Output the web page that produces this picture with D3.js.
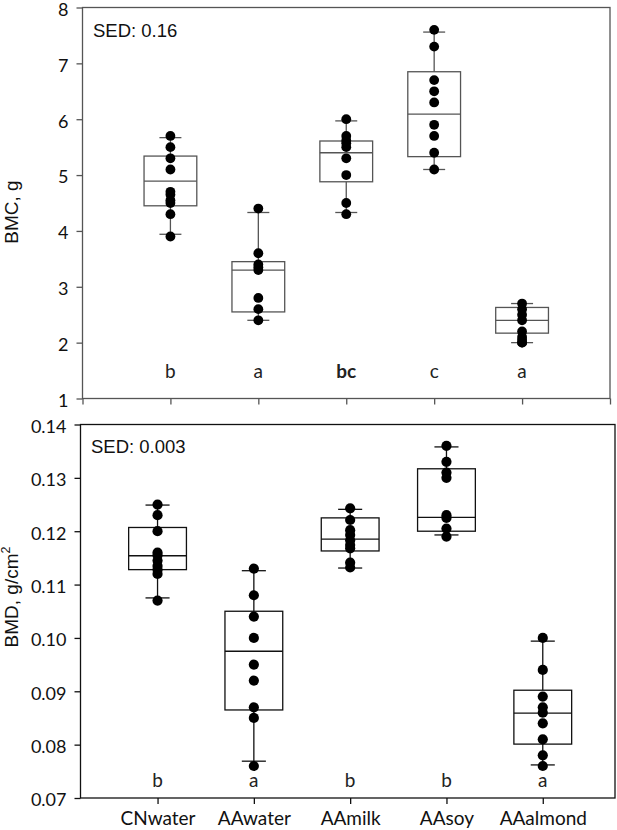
<!DOCTYPE html>
<html>
<head>
<meta charset="utf-8">
<script src="https://cdn.jsdelivr.net/npm/d3@7"></script>
<style>
  html, body { margin: 0; padding: 0; background: #fff; }
  svg { display: block; }
</style>
</head>
<body>
<svg id="chart" width="617" height="830"></svg>
<script>
// ---------- DATA ----------
const categories = ["CNwater", "AAwater", "AAmilk", "AAsoy", "AAalmond"];

// BMC, g (top panel)
const bmcPoints = [
  [5.7, 5.5, 5.3, 5.1, 4.7, 4.65, 4.55, 4.5, 4.3, 3.9],
  [4.4, 3.6, 3.4, 3.35, 3.3, 2.8, 2.6, 2.4],
  [6.0, 5.7, 5.62, 5.57, 5.5, 5.3, 5.0, 4.5, 4.3],
  [7.6, 7.3, 6.7, 6.5, 6.3, 5.9, 5.7, 5.4, 5.1],
  [2.7, 2.6, 2.5, 2.4, 2.2, 2.1, 2.05, 2.0, 2.0]
];
const bmcQ1      = [4.45, 2.55, 4.88, 5.33, 2.17];
const bmcMedian  = [4.89, 3.30, 5.40, 6.09, 2.40];
const bmcQ3      = [5.34, 3.45, 5.61, 6.85, 2.63];
const bmcLow     = [3.94, 2.40, 4.33, 5.10, 2.00];
const bmcHigh    = [5.67, 4.33, 5.97, 7.56, 2.70];
const bmcLetters = ["b", "a", "bc", "c", "a"];
const bmcTicks   = [1, 2, 3, 4, 5, 6, 7, 8];
const bmcSED     = "SED: 0.16";

// BMD, g/cm2 (bottom panel)
const bmdPoints = [
  [0.125, 0.123, 0.120, 0.116, 0.1155, 0.1145, 0.1135, 0.1128, 0.112, 0.107],
  [0.113, 0.108, 0.104, 0.100, 0.095, 0.092, 0.087, 0.085, 0.076],
  [0.1243, 0.1221, 0.1202, 0.1193, 0.1183, 0.1174, 0.1168, 0.1141, 0.1132],
  [0.136, 0.133, 0.131, 0.130, 0.123, 0.1225, 0.1205, 0.119],
  [0.100, 0.094, 0.089, 0.087, 0.086, 0.084, 0.081, 0.078, 0.076]
];
const bmdQ1      = [0.1128, 0.0865, 0.1163, 0.1200, 0.0801];
const bmdMedian  = [0.1154, 0.0975, 0.1185, 0.1226, 0.0859];
const bmdQ3      = [0.1207, 0.1050, 0.1225, 0.1317, 0.0902];
const bmdLow     = [0.1075, 0.0769, 0.1131, 0.1193, 0.0762];
const bmdHigh    = [0.1249, 0.1126, 0.1241, 0.1358, 0.0994];
const bmdLetters = ["b", "a", "b", "b", "a"];
const bmdTicks   = [0.07, 0.08, 0.09, 0.10, 0.11, 0.12, 0.13, 0.14];
const bmdSED     = "SED: 0.003";

// ---------- DRAW ----------
const svg = d3.select("#chart");
const tickFont = "Lato, 'Open Sans', sans-serif";
const textFont = "Arial, 'Liberation Sans', sans-serif";

function panel(cfg) {
  const g = svg.append("g");
  const x = d3.scaleLinear().domain(cfg.xDomain).range([cfg.left, cfg.right]);
  const y = d3.scaleLinear().domain(cfg.yDomain).range([cfg.bottom, cfg.top]);
  const col = cfg.color;

  // frame
  g.append("rect")
    .attr("x", cfg.left).attr("y", cfg.top)
    .attr("width", cfg.right - cfg.left).attr("height", cfg.bottom - cfg.top)
    .attr("fill", "none").attr("stroke", col).attr("stroke-width", 1.3);

  // y axis
  const yAxis = d3.axisLeft(y).tickValues(cfg.yTicks).tickSize(6).tickPadding(8)
    .tickFormat(cfg.yFormat);
  const ya = g.append("g").attr("transform", `translate(${cfg.left},0)`).call(yAxis);
  ya.select(".domain").remove();
  ya.selectAll(".tick line").attr("stroke", col).attr("stroke-width", 1.3);
  ya.selectAll(".tick text").attr("font-family", tickFont).attr("font-size", 18)
    .attr("dy", "0.44em").attr("fill", "#111");

  // x axis
  const xAxis = d3.axisBottom(x).tickValues(cfg.xTicks).tickSize(6)
    .tickPadding(cfg.showLabels ? 8 : 3)
    .tickFormat(d => cfg.showLabels && d >= 1 && d <= categories.length ? categories[d - 1] : "");
  const xa = g.append("g").attr("transform", `translate(0,${cfg.bottom})`).call(xAxis);
  xa.select(".domain").remove();
  xa.selectAll(".tick line").attr("stroke", col).attr("stroke-width", 1.3);
  xa.selectAll(".tick text").attr("font-family", tickFont).attr("font-size", 19)
    .attr("fill", "#111");

  const idx = d3.range(categories.length);
  const boxHalf = 0.3, capHalf = 0.125;

  // whiskers
  g.selectAll(".wl").data(idx).join("line")
    .attr("x1", i => x(i + 1)).attr("x2", i => x(i + 1))
    .attr("y1", i => y(cfg.high[i])).attr("y2", i => y(cfg.q3[i]))
    .attr("stroke", col).attr("stroke-width", 1.3);
  g.selectAll(".wh").data(idx).join("line")
    .attr("x1", i => x(i + 1)).attr("x2", i => x(i + 1))
    .attr("y1", i => y(cfg.q1[i])).attr("y2", i => y(cfg.low[i]))
    .attr("stroke", col).attr("stroke-width", 1.3);
  ["high", "low"].forEach(k => {
    g.selectAll(".cap-" + k).data(idx).join("line")
      .attr("x1", i => x(i + 1 - capHalf)).attr("x2", i => x(i + 1 + capHalf))
      .attr("y1", i => y(cfg[k][i])).attr("y2", i => y(cfg[k][i]))
      .attr("stroke", col).attr("stroke-width", 1.3);
  });

  // boxes
  g.selectAll(".box").data(idx).join("rect")
    .attr("x", i => x(i + 1 - boxHalf))
    .attr("width", i => x(i + 1 + boxHalf) - x(i + 1 - boxHalf))
    .attr("y", i => y(cfg.q3[i]))
    .attr("height", i => y(cfg.q1[i]) - y(cfg.q3[i]))
    .attr("fill", "none").attr("stroke", col).attr("stroke-width", 1.3);
  g.selectAll(".med").data(idx).join("line")
    .attr("x1", i => x(i + 1 - boxHalf)).attr("x2", i => x(i + 1 + boxHalf))
    .attr("y1", i => y(cfg.median[i])).attr("y2", i => y(cfg.median[i]))
    .attr("stroke", col).attr("stroke-width", 1.3);

  // points
  const pts = [];
  cfg.points.forEach((arr, i) => arr.forEach(v => pts.push({ i, v })));
  g.selectAll(".pt").data(pts).join("circle")
    .attr("cx", d => x(d.i + 1)).attr("cy", d => y(d.v))
    .attr("r", cfg.r).attr("fill", "#000");

  // letters
  g.selectAll(".let").data(idx).join("text")
    .attr("x", i => x(i + 1)).attr("y", cfg.letterY)
    .attr("text-anchor", "middle").attr("dominant-baseline", "middle")
    .attr("font-family", tickFont).attr("font-size", 19).attr("fill", "#222")
    .attr("font-weight", i => cfg.letters[i].length > 1 ? 700 : 400)
    .text(i => cfg.letters[i]);

  // SED
  g.append("text").attr("x", cfg.left + 10.5).attr("y", cfg.top + cfg.sedDy)
    .attr("font-family", textFont).attr("font-size", 18.5).attr("fill", "#111")
    .text(cfg.sed);

  // y title
  const t = g.append("text")
    .attr("transform", `translate(${cfg.titleX},${cfg.titleY}) rotate(-90)`)
    .attr("text-anchor", "middle")
    .attr("font-family", textFont).attr("font-size", 19).attr("fill", "#111");
  t.append("tspan").text(cfg.title);
  if (cfg.titleSup) {
    t.append("tspan").attr("font-size", 12.5).attr("dy", -8).text(cfg.titleSup);
  }
}

panel({
  xDomain: [0, 6], yDomain: [1, 8],
  left: 82.5, right: 610, top: 7.5, bottom: 398.5,
  xTicks: [0, 1, 2, 3, 4, 5, 6], yTicks: bmcTicks, yFormat: d3.format("d"),
  showLabels: false, color: "#555",
  points: bmcPoints, q1: bmcQ1, median: bmcMedian, q3: bmcQ3, low: bmcLow, high: bmcHigh,
  letters: bmcLetters, letterY: 373, sed: bmcSED, sedDy: 29.5, r: 4.9,
  title: "BMC, g", titleX: 18, titleY: 212
});

panel({
  xDomain: [0.2, 5.75], yDomain: [0.07, 0.14],
  left: 80.5, right: 615, top: 424.5, bottom: 798,
  xTicks: [1, 2, 3, 4, 5], yTicks: bmdTicks, yFormat: d3.format(".2f"),
  showLabels: true, color: "#111",
  points: bmdPoints, q1: bmdQ1, median: bmdMedian, q3: bmdQ3, low: bmdLow, high: bmdHigh,
  letters: bmdLetters, letterY: 782, sed: bmdSED, sedDy: 28, r: 5.1,
  title: "BMD, g/cm", titleSup: "2", titleX: 18, titleY: 597
});
</script>
</body>
</html>
